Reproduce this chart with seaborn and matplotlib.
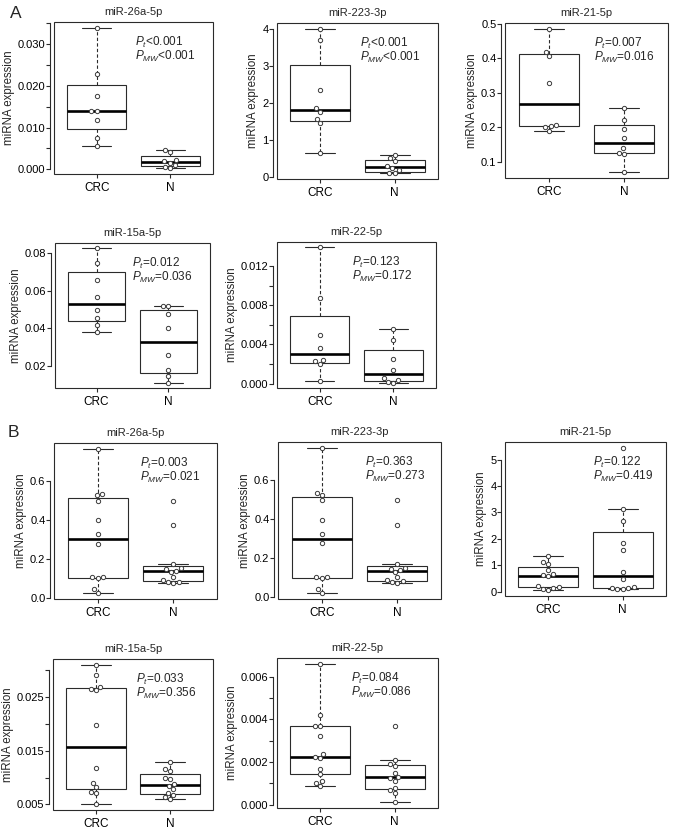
import numpy as np
import pandas as pd
import matplotlib
matplotlib.use("Agg")
import matplotlib as mpl
import matplotlib.pyplot as plt
import matplotlib.cbook
from matplotlib.patches import Rectangle
import seaborn as sns

# ------------------------------------------------------------------ data
groups = ["CRC", "N"]

titles = ["miR-26a-5p", "miR-223-3p", "miR-21-5p", "miR-15a-5p", "miR-22-5p",
          "miR-26a-5p", "miR-223-3p", "miR-21-5p", "miR-15a-5p", "miR-22-5p"]

p_t = ["<0.001", "<0.001", "=0.007", "=0.012", "=0.123",
       "=0.003", "=0.363", "=0.122", "=0.033", "=0.084"]
p_mw = ["<0.001", "<0.001", "=0.016", "=0.036", "=0.172",
        "=0.021", "=0.273", "=0.419", "=0.356", "=0.086"]

# Set A
a1_crc = [0.0340, 0.0229, 0.0177, 0.0140, 0.0139, 0.0118, 0.0076, 0.0056]
a1_n = [0.0045, 0.0042, 0.0022, 0.0020, 0.0015, 0.0010, 0.0006, 0.0002]
a2_crc = [4.00, 3.71, 2.35, 1.86, 1.76, 1.56, 1.45, 0.65]
a2_n = [0.58, 0.50, 0.43, 0.29, 0.23, 0.18, 0.11, 0.10]
a3_crc = [0.485, 0.419, 0.406, 0.327, 0.206, 0.204, 0.201, 0.190]
a3_n = [0.255, 0.221, 0.194, 0.168, 0.139, 0.127, 0.124, 0.070]
a4_crc = [0.0827, 0.0747, 0.0658, 0.0565, 0.0497, 0.0456, 0.0420, 0.0378]
a4_n = [0.0520, 0.0518, 0.0475, 0.0400, 0.0255, 0.0180, 0.0145, 0.0110]
a5_crc = [0.0139, 0.0087, 0.0050, 0.0036, 0.0024, 0.0023, 0.0020, 0.0003]
a5_n = [0.0056, 0.0044, 0.0025, 0.0014, 0.0006, 0.0004, 0.0002, 0.0001]

# Set B
b1_crc = [0.764, 0.534, 0.524, 0.497, 0.397, 0.324, 0.276, 0.105, 0.103, 0.100, 0.043, 0.022]
b1_n = [0.497, 0.371, 0.170, 0.150, 0.145, 0.138, 0.130, 0.105, 0.090, 0.082, 0.078, 0.074]
b2_crc = [0.764, 0.534, 0.524, 0.497, 0.397, 0.324, 0.276, 0.105, 0.103, 0.100, 0.043, 0.022]
b2_n = [0.497, 0.371, 0.170, 0.150, 0.145, 0.138, 0.130, 0.105, 0.090, 0.082, 0.078, 0.074]
b3_crc = [1.33, 1.12, 1.05, 0.82, 0.65, 0.62, 0.58, 0.20, 0.18, 0.15, 0.10, 0.05]
b3_n = [5.45, 3.14, 2.67, 1.83, 1.56, 0.74, 0.46, 0.18, 0.15, 0.13, 0.11, 0.10]
b4_crc = [0.0311, 0.0291, 0.0270, 0.0266, 0.0264, 0.0198, 0.0118, 0.0090, 0.0082, 0.0074, 0.0071, 0.0050]
b4_n = [0.0129, 0.0116, 0.0112, 0.0100, 0.0097, 0.0088, 0.0085, 0.0078, 0.0072, 0.0068, 0.0064, 0.0060]
b5_crc = [0.00661, 0.00420, 0.00368, 0.00366, 0.00322, 0.00236, 0.00222, 0.00216,
          0.00169, 0.00142, 0.00111, 0.00103, 0.00087]
b5_n = [0.00368, 0.0021, 0.0019, 0.0018, 0.0015, 0.0013, 0.00125, 0.0011,
        0.0008, 0.0007, 0.00055, 0.0001]

crc_values = [a1_crc, a2_crc, a3_crc, a4_crc, a5_crc, b1_crc, b2_crc, b3_crc, b4_crc, b5_crc]
n_values = [a1_n, a2_n, a3_n, a4_n, a5_n, b1_n, b2_n, b3_n, b4_n, b5_n]

# y ticks and which of them carry a label
yticks = [
    [0.000, 0.005, 0.010, 0.015, 0.020, 0.025, 0.030, 0.035],
    [0, 1, 2, 3, 4],
    [0.1, 0.2, 0.3, 0.4, 0.5],
    [0.02, 0.04, 0.06, 0.08],
    [0.000, 0.002, 0.004, 0.006, 0.008, 0.010, 0.012],
    [0.0, 0.2, 0.4, 0.6],
    [0.0, 0.2, 0.4, 0.6],
    [0, 1, 2, 3, 4, 5],
    [0.005, 0.010, 0.015, 0.020, 0.025, 0.030],
    [0.000, 0.001, 0.002, 0.003, 0.004, 0.005, 0.006],
]
ytick_labels = [
    ["0.000", "", "0.010", "", "0.020", "", "0.030", ""],
    ["0", "1", "2", "3", "4"],
    ["0.1", "0.2", "0.3", "0.4", "0.5"],
    ["0.02", "0.04", "0.06", "0.08"],
    ["0.000", "", "0.004", "", "0.008", "", "0.012"],
    ["0.0", "0.2", "0.4", "0.6"],
    ["0.0", "0.2", "0.4", "0.6"],
    ["0", "1", "2", "3", "4", "5"],
    ["0.005", "", "0.015", "", "0.025", ""],
    ["0.000", "", "0.002", "", "0.004", "", "0.006"],
]

# ------------------------------------------------------------------ layout (pixels)
FIG_W, FIG_H = 677, 832
panel_left = [54, 277, 505, 55, 277, 54, 278, 505, 53, 277]
panel_top = [22, 23, 23, 243, 242, 443, 442, 442, 659, 658]
panel_w = [159, 161, 163, 155, 159, 163, 163, 161, 160, 161]
panel_h = [152, 156, 155, 145, 146, 156, 157, 154, 151, 150]
text_x = [0.51, 0.515, 0.545, 0.495, 0.47, 0.53, 0.535, 0.545, 0.52, 0.46]


# R-style (Tukey hinge) box statistics
_orig_boxplot_stats = matplotlib.cbook.boxplot_stats


def _tukey_boxplot_stats(X, whis=1.5, **kw):
    out = _orig_boxplot_stats(X, whis=whis, **kw)
    for st, x in zip(out, X):
        x = np.sort(np.asarray(x, float))
        n = len(x)
        n4 = np.floor((n + 3) / 2) / 2
        d = np.array([1, n4, (n + 1) / 2, n + 1 - n4, n]) - 1
        fn = 0.5 * (x[np.floor(d).astype(int)] + x[np.ceil(d).astype(int)])
        q1, med, q3 = fn[1], fn[2], fn[3]
        iqr = q3 - q1
        hi = x[x <= q3 + whis * iqr].max()
        lo = x[x >= q1 - whis * iqr].min()
        st.update(q1=q1, med=med, q3=q3, iqr=iqr, whislo=lo, whishi=hi,
                  fliers=x[(x < lo) | (x > hi)])
    return out


matplotlib.cbook.boxplot_stats = _tukey_boxplot_stats

# ------------------------------------------------------------------ style
sns.set_theme(style="ticks")
plt.rcParams["font.family"] = ["Liberation Sans", "DejaVu Sans"]
plt.rcParams["mathtext.fontset"] = "custom"
plt.rcParams["mathtext.rm"] = "Liberation Sans"
plt.rcParams["mathtext.it"] = "Liberation Sans:italic"
plt.rcParams["mathtext.default"] = "it"

LINE = "#2b2b2b"
fig = plt.figure(figsize=(FIG_W / 100, FIG_H / 100), dpi=100)
fig.patch.set_facecolor("white")

for i in range(10):
    df = pd.DataFrame({
        "group": ["CRC"] * len(crc_values[i]) + ["N"] * len(n_values[i]),
        "value": list(crc_values[i]) + list(n_values[i]),
    })
    l, t, w, h = panel_left[i], panel_top[i], panel_w[i], panel_h[i]
    ax = fig.add_axes([l / FIG_W, 1 - (t + h) / FIG_H, w / FIG_W, h / FIG_H])

    sns.boxplot(data=df, x="group", y="value", order=groups, ax=ax,
                width=0.8, fill=True, color="white", linecolor=LINE,
                linewidth=0.8, showfliers=False, whis=1.5,
                medianprops={"color": "black", "linewidth": 1.9},
                whiskerprops={"linestyle": (0, (3, 2)), "linewidth": 0.8},
                capprops={"linewidth": 0.8})
    sns.swarmplot(data=df, x="group", y="value", order=groups, ax=ax,
                  size=3.1, color="white", edgecolor="#3a3a3a",
                  linewidth=0.7, zorder=4)

    vals = df["value"].to_numpy()
    lo, hi = vals.min(), vals.max()
    pad = 0.04 * (hi - lo)
    ax.set_ylim(lo - pad, hi + pad)
    ax.set_xlim(-0.58, 1.58)

    ax.set_yticks(yticks[i])
    ax.set_yticklabels(ytick_labels[i])
    ax.set_xlabel("")
    ax.set_ylabel("miRNA expression", fontsize=8.3, labelpad=2)
    ax.set_title(titles[i], fontsize=8, pad=5)

    for s in ["top", "right", "bottom"]:
        ax.spines[s].set_visible(False)
    ax.spines["left"].set_position(("outward", 2.6))
    ax.spines["left"].set_bounds(yticks[i][0], yticks[i][-1])
    ax.spines["left"].set_linewidth(0.8)
    ax.spines["left"].set_color(LINE)
    ax.add_patch(Rectangle((0, 0), 1, 1, transform=ax.transAxes, fill=False,
                           lw=0.8, ec=LINE, clip_on=False, zorder=6))
    ax.tick_params(axis="x", bottom=True, length=3.0, width=0.8, pad=2.5,
                   labelsize=8.5, color=LINE, labelcolor="black")
    ax.tick_params(axis="y", left=True, length=2.6, width=0.8, pad=1.0,
                   labelsize=8, color=LINE, labelcolor="black")

    ax.text(text_x[i], 1 - 20 / h, r"$P_{t}$" + p_t[i], transform=ax.transAxes,
            ha="left", va="center", fontsize=8.5)
    ax.text(text_x[i], 1 - 34.5 / h, r"$P_{MW}$" + p_mw[i], transform=ax.transAxes,
            ha="left", va="center", fontsize=8.5)

fig.text(10 / FIG_W, 1 - 13 / FIG_H, "A", fontsize=12.5, ha="left", va="center")
fig.text(8 / FIG_W, 1 - 432 / FIG_H, "B", fontsize=12.5, ha="left", va="center")

fig.savefig("out.png", dpi=100, facecolor="white")
